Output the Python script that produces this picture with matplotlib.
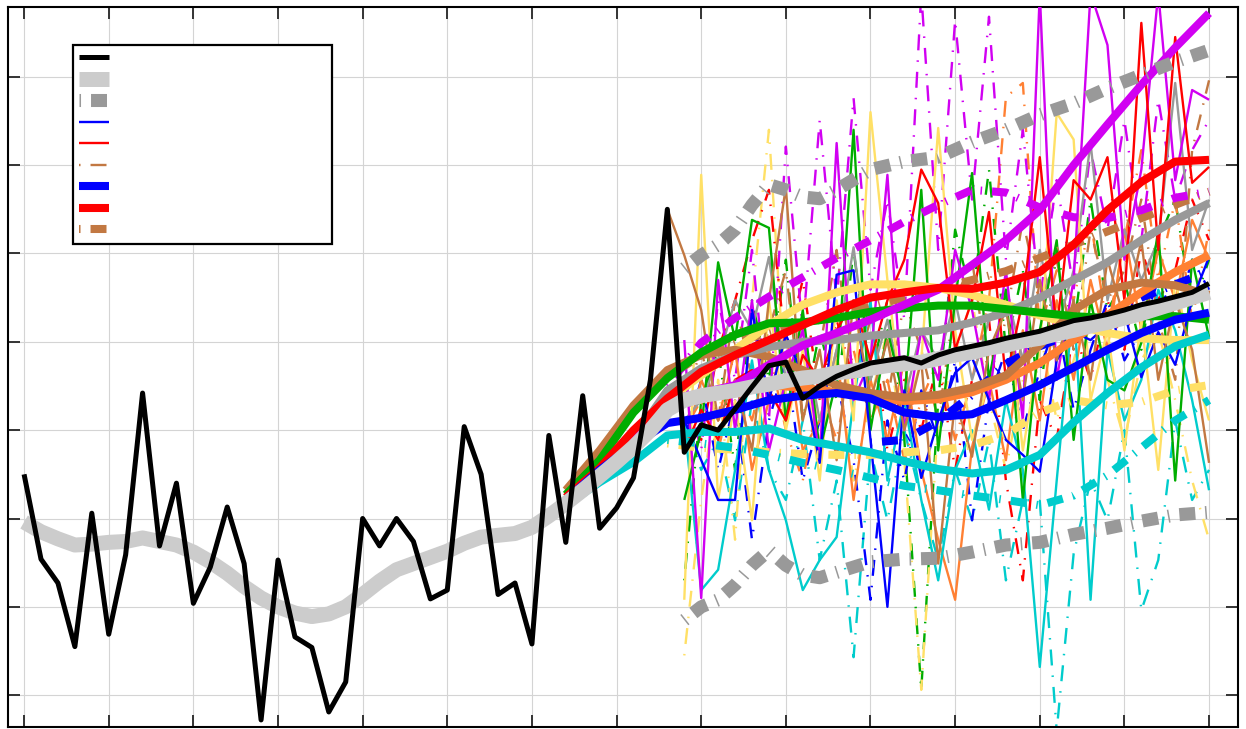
import numpy as np
import matplotlib
matplotlib.use("Agg")
import matplotlib.pyplot as plt

plt.rcParams['lines.scale_dashes'] = False
plt.rcParams['lines.solid_joinstyle'] = 'round'
plt.rcParams['lines.solid_capstyle'] = 'butt'
plt.rcParams['lines.dash_capstyle'] = 'butt'

# ---------------- data ----------------
obs_years = list(range(1950, 2021))
obs = [2.50, 1.54, 1.27, 0.55, 2.06, 0.69, 1.59, 3.42, 1.69, 2.40,
       1.04, 1.45, 2.13, 1.49, -0.28, 1.53, 0.66, 0.54, -0.19, 0.15,
       2.00, 1.69, 2.00, 1.74, 1.09, 1.19, 3.04, 2.50, 1.14, 1.27,
       0.58, 2.94, 1.73, 3.39, 1.89, 2.12, 2.46, 3.57, 5.50, 2.75,
       3.06, 3.00, 3.24, 3.49, 3.73, 3.77, 3.36, 3.50, 3.61, 3.69,
       3.76, 3.79, 3.82, 3.76, 3.85, 3.91, 3.95, 3.99, 4.04, 4.08,
       4.12, 4.18, 4.24, 4.27, 4.31, 4.36, 4.42, 4.46, 4.51, 4.56, 4.66]
obs_smooth = [1.96, 1.85, 1.77, 1.70, 1.71, 1.73, 1.74, 1.78, 1.74, 1.70,
              1.62, 1.51, 1.38, 1.23, 1.10, 1.00, 0.93, 0.89, 0.92, 1.00,
              1.14, 1.29, 1.42, 1.49, 1.56, 1.63, 1.72, 1.79, 1.81, 1.83,
              1.90, 2.03, 2.17, 2.32, 2.48, 2.64, 2.81, 3.00, 3.23, 3.34,
              3.39, 3.42, 3.45, 3.49, 3.52, 3.56, 3.59, 3.61, 3.65, 3.67,
              3.70, 3.73, 3.75, 3.77, 3.81, 3.85, 3.88, 3.93, 3.96, 4.01,
              4.04, 4.09, 4.13, 4.18, 4.22, 4.27, 4.32, 4.38, 4.44, 4.50, 4.56]

env_years = [1989, 1990, 1991, 1992, 1993, 1994, 1995, 1996, 1997, 1998,
             2000, 2002, 2004, 2006, 2008, 2010, 2012, 2014, 2016, 2018, 2020]
env_upper = [4.83, 4.98, 5.10, 5.27, 5.55, 5.78, 5.72, 5.64, 5.62, 5.72,
             5.95, 6.04, 6.09, 6.26, 6.40, 6.57, 6.70, 6.87, 7.02, 7.17, 7.30]
env_lower = [0.85, 1.00, 1.08, 1.25, 1.47, 1.64, 1.47, 1.36, 1.33, 1.39,
             1.51, 1.54, 1.55, 1.62, 1.70, 1.73, 1.82, 1.89, 1.97, 2.04, 2.07]

thin_years = list(range(1989, 2021))
brown_years = list(range(1988, 2021))

thin_blue = [3.11, 2.66, 2.21, 2.21, 4.36, 3.34, 4.08, 3.62, 2.63, 4.76, 4.81, 2.89, 1.00, 3.45, 2.46, 3.11,
             3.65, 3.82, 3.34, 2.89, 2.72, 2.53, 3.79, 4.11, 4.02, 4.19, 4.33, 3.60, 4.11, 3.74, 4.47, 4.96]
thin_red = [2.77, 3.23, 2.89, 3.57, 3.68, 3.45, 3.11, 3.85, 3.57, 4.13, 4.47, 3.79, 4.47, 4.93, 5.95, 5.57,
            3.91, 4.47, 5.47, 3.57, 4.47, 6.09, 4.13, 5.83, 5.61, 6.09, 4.47, 7.61, 5.04, 7.45, 5.80, 5.98]
thin_green = [2.21, 3.00, 4.90, 4.02, 5.38, 5.29, 3.11, 4.36, 2.77, 3.57, 6.40, 3.00, 4.13, 3.34, 5.72, 2.77,
              4.47, 5.91, 3.57, 4.59, 2.21, 4.13, 5.15, 2.89, 4.47, 3.57, 3.45, 3.99, 5.27, 2.43, 4.93, 4.05]
thin_magenta = [4.02, 1.10, 4.70, 3.00, 4.47, 2.77, 3.57, 4.13, 2.66, 6.25, 3.34, 3.79, 5.89, 3.00, 4.13, 3.57,
                5.04, 4.36, 3.34, 4.81, 3.11, 7.95, 3.57, 4.70, 7.95, 7.36, 4.93, 5.95, 7.95, 5.83, 6.85, 6.74]
thin_yellow = [1.08, 5.89, 2.21, 3.34, 1.98, 4.47, 3.00, 3.91, 2.43, 4.47, 3.11, 6.60, 4.70, 3.11, 3.79, 6.42,
               4.13, 2.89, 3.57, 4.47, 2.77, 3.91, 6.59, 6.29, 3.34, 4.13, 2.77, 4.25, 2.55, 4.70, 3.79, 3.11]
thin_cyan = [3.11, 1.19, 1.42, 2.55, 3.79, 2.55, 1.98, 1.19, 1.53, 1.79, 3.34, 4.47, 2.43, 3.34, 2.21, 1.30,
             2.55, 3.00, 2.10, 3.34, 2.55, 0.32, 2.43, 4.47, 1.08, 3.91, 3.11, 3.57, 4.59, 4.13, 3.34, 2.32]
thin_orange = [2.77, 3.57, 3.11, 3.91, 2.55, 3.34, 4.13, 2.77, 3.11, 3.91, 2.21, 3.57, 2.89, 3.79, 2.55, 1.76,
               1.08, 2.81, 3.57, 2.66, 4.13, 3.11, 4.47, 3.57, 4.70, 3.91, 5.27, 4.13, 5.04, 4.47, 5.38, 4.93]
thin_brown = [5.50, 4.98, 4.36, 3.11, 3.57, 2.77, 4.47, 5.75, 3.11, 3.91, 2.66, 4.47, 3.34, 4.02, 3.00, 3.79,
              1.49, 3.34, 2.70, 3.91, 4.36, 3.34, 4.70, 3.79, 4.47, 3.57, 4.93, 4.25, 5.15, 3.57, 4.47, 3.91, 2.63]
thin_gray = [3.11, 3.34, 3.79, 4.47, 4.13, 4.96, 3.57, 4.13, 3.11, 3.91, 5.07, 3.57, 4.25, 3.34, 4.13, 3.79,
             4.47, 3.57, 4.25, 4.59, 3.79, 5.04, 4.13, 4.81, 6.25, 4.47, 5.27, 4.70, 5.15, 6.93, 5.04, 5.61]

dd_magenta = [3.57, 2.77, 4.47, 3.57, 5.04, 3.11, 6.21, 4.13, 6.51, 4.47, 6.76, 4.59, 5.61, 4.25, 7.95, 5.04,
              7.64, 5.61, 7.68, 4.93, 6.40, 4.47, 5.83, 4.59, 6.17, 5.27, 6.51, 5.15, 6.74, 5.61, 6.17, 6.51]
dd_cyan = [3.11, 2.55, 2.89, 1.98, 3.34, 2.55, 2.21, 3.11, 1.53, 2.43, 0.43, 2.77, 1.98, 3.00, 2.21, 1.53,
           2.55, 1.98, 2.89, 1.30, 2.21, 2.20, -0.40, 1.60, 2.43, 1.98, 3.00, 0.96, 1.53, 3.11, 2.21, 2.55]
dd_green = [1.30, 3.34, 3.91, 2.55, 4.47, 3.57, 4.93, 3.11, 4.13, 3.34, 5.04, 3.57, 4.47, 2.89, 0.06, 3.34,
            5.27, 4.47, 5.95, 3.91, 4.81, 3.34, 5.04, 4.13, 5.61, 4.36, 4.70, 3.91, 5.15, 5.61, 4.36, 4.93]
dd_yellow = [0.45, 2.21, 3.57, 1.76, 4.47, 6.40, 3.34, 4.25, 2.89, 3.79, 2.43, 3.34, 4.13, 2.66, 0.06, 3.11,
             3.91, 4.47, 3.34, 2.55, 3.57, 4.13, 3.11, 3.79, 4.47, 3.57, 2.89, 3.79, 4.13, 3.34, 2.43, 1.76]
dd_red = [3.11, 2.89, 3.91, 4.47, 5.15, 5.72, 3.91, 4.70, 3.34, 4.25, 3.57, 4.47, 2.77, 3.57, 3.00, 3.79,
          2.55, 3.57, 4.25, 2.43, 1.30, 3.34, 2.89, 4.13, 3.57, 4.47, 3.91, 5.04, 4.47, 4.81, 5.61, 5.15]
dd_blue = [2.89, 3.57, 2.55, 3.34, 1.76, 3.11, 3.79, 2.43, 3.11, 3.57, 2.66, 1.08, 3.11, 2.43, 3.45, 2.89,
           3.79, 1.98, 3.34, 3.91, 3.00, 3.68, 4.25, 3.23, 3.91, 4.47, 3.79, 4.13, 4.70, 4.25, 4.93, 4.59]
dd_orange = [3.00, 3.34, 2.77, 3.57, 3.11, 3.91, 3.00, 2.43, 3.45, 2.89, 3.91, 3.11, 3.57, 2.66, 3.34, 3.79,
             2.89, 3.57, 4.47, 6.77, 6.93, 4.13, 4.81, 4.47, 5.38, 4.13, 5.15, 6.17, 4.70, 5.61, 4.25, 5.27]
dd_brown = [3.34, 3.91, 3.11, 4.47, 3.57, 4.13, 4.81, 3.11, 3.91, 5.04, 3.57, 4.25, 3.34, 4.47, 3.91, 3.11,
            4.47, 4.93, 3.57, 4.25, 5.38, 4.47, 4.93, 3.91, 5.27, 4.47, 4.81, 5.61, 4.25, 3.57, 6.17, 6.96]

thick_years = list(range(1982, 2021, 2))
thick_brown = [2.32, 2.77, 3.28, 3.68, 3.85, 3.91, 3.83, 3.68, 3.51, 3.42, 3.37, 3.40, 3.48, 3.62, 3.96, 4.36, 4.59, 4.67, 4.64, 4.53]
thick_green = [2.27, 2.66, 3.20, 3.59, 3.88, 4.08, 4.21, 4.22, 4.27, 4.34, 4.38, 4.41, 4.41, 4.37, 4.33, 4.29, 4.27, 4.29, 4.29, 4.25]
thick_red = [2.24, 2.57, 3.00, 3.36, 3.66, 3.85, 4.02, 4.19, 4.36, 4.50, 4.56, 4.61, 4.60, 4.67, 4.79, 5.10, 5.49, 5.81, 6.04, 6.06]
thick_blue = [2.21, 2.55, 2.83, 3.08, 3.14, 3.23, 3.34, 3.39, 3.42, 3.36, 3.20, 3.15, 3.18, 3.34, 3.51, 3.71, 3.91, 4.10, 4.25, 4.33]
thick_cyan = [2.15, 2.41, 2.64, 2.94, 2.98, 2.98, 3.02, 2.89, 2.82, 2.75, 2.65, 2.56, 2.51, 2.55, 2.72, 3.09, 3.42, 3.71, 3.95, 4.08]
thick_gray = [2.20, 2.55, 2.90, 3.45, 3.70, 3.85, 3.94, 4.00, 4.02, 4.07, 4.10, 4.13, 4.22, 4.33, 4.50, 4.70, 4.90, 5.15, 5.38, 5.57]
thick_orange = [2.21, 2.55, 2.89, 3.23, 3.40, 3.48, 3.51, 3.48, 3.43, 3.37, 3.33, 3.35, 3.43, 3.57, 3.76, 4.02, 4.30, 4.56, 4.79, 4.98]
thick_yellow = [2.19, 2.49, 2.89, 3.34, 3.62, 3.91, 4.19, 4.42, 4.56, 4.65, 4.65, 4.61, 4.53, 4.42, 4.30, 4.19, 4.10, 4.04, 4.02, 4.02]
thick_magenta = [2.20, 2.50, 2.90, 3.34, 3.42, 3.51, 3.74, 3.96, 4.10, 4.25, 4.42, 4.59, 4.87, 5.15, 5.49, 6.00, 6.46, 6.91, 7.33, 7.72]

thickdd_years = list(range(1988, 2021, 2))
thickdd_magenta = [3.50, 3.99, 4.27, 4.51, 4.73, 4.95, 5.15, 5.36, 5.55, 5.72, 5.69, 5.52, 5.41, 5.40, 5.49, 5.63, 5.70]
thickdd_cyan = [2.89, 2.85, 2.80, 2.72, 2.63, 2.55, 2.46, 2.37, 2.32, 2.26, 2.21, 2.15, 2.26, 2.49, 2.80, 3.11, 3.34]
thickdd_yellow = [2.85, 2.80, 2.78, 2.75, 2.73, 2.72, 2.72, 2.75, 2.77, 2.83, 2.95, 3.20, 3.34, 3.28, 3.32, 3.45, 3.51]
thickdd_brown = [3.60, 3.85, 4.00, 4.10, 4.20, 4.30, 4.40, 4.50, 4.60, 4.70, 4.80, 4.95, 5.10, 5.25, 5.40, 5.55, 5.70]
thickdd_blue_years = list(range(2000, 2021, 2))
thickdd_blue = [2.86, 2.89, 3.10, 3.40, 3.75, 3.95, 4.10, 4.30, 4.50, 4.65, 4.80]

# ---------------- styles ----------------
C = {
    'blue': (0.0, 0.0, 1.0), 'red': (1.0, 0.0, 0.0), 'green': (0.0, 0.68, 0.0),
    'magenta': (0.82, 0.0, 0.95), 'cyan': (0.0, 0.8, 0.8), 'yellow': (1.0, 0.88, 0.4),
    'orange': (1.0, 0.5, 0.2), 'brown': (0.76, 0.47, 0.26), 'gray': (0.6, 0.6, 0.6),
    'lightgray': (0.8, 0.8, 0.8), 'black': (0, 0, 0),
}
DD = (18.7, (11.5, 7.2, 1.1, 7.2))
LW_THIN, LW_THICK = 1.7, 5.8

fig = plt.figure(figsize=(12.46, 7.29), dpi=100)
ax = fig.add_axes([8 / 1246, 2 / 729, 1230 / 1246, 720 / 729])

# thin dash-dot
for vals, c in [(dd_cyan, 'cyan'), (dd_green, 'green'), (dd_yellow, 'yellow'), (dd_red, 'red'),
                (dd_blue, 'blue'), (dd_orange, 'orange'), (dd_magenta, 'magenta'), (dd_brown, 'brown')]:
    ax.plot(thin_years, vals, color=C[c], lw=LW_THIN, linestyle=DD, zorder=2)

# thin solid
for vals, c in [(thin_orange, 'orange'), (thin_gray, 'gray'), (thin_cyan, 'cyan'), (thin_yellow, 'yellow'),
                (thin_green, 'green'), (thin_magenta, 'magenta'), (thin_red, 'red'), (thin_blue, 'blue')]:
    ax.plot(thin_years, vals, color=C[c], lw=LW_THIN, zorder=3)
ax.plot(brown_years, thin_brown, color=C['brown'], lw=LW_THIN, zorder=3)

# thick dash-dot
for vals, c in [(thickdd_yellow, 'yellow'), (thickdd_cyan, 'cyan'),
                (thickdd_brown, 'brown'), (thickdd_magenta, 'magenta')]:
    ax.plot(thickdd_years, vals, color=C[c], lw=LW_THICK, linestyle=DD, zorder=4)
ax.plot(thickdd_blue_years, thickdd_blue, color=C['blue'], lw=LW_THICK, linestyle=DD, zorder=4)

# thick solid
for vals, c in [(thick_yellow, 'yellow'), (thick_orange, 'orange'), (thick_brown, 'brown'),
                (thick_gray, 'gray'), (thick_cyan, 'cyan'), (thick_green, 'green'),
                (thick_magenta, 'magenta'), (thick_red, 'red'), (thick_blue, 'blue')]:
    ax.plot(thick_years, vals, color=C[c], lw=LW_THICK, zorder=5)

# envelope
ax.plot(env_years, env_upper, color=C['gray'], lw=9.4, linestyle=DD, zorder=6)
ax.plot(env_years, env_lower, color=C['gray'], lw=9.4, linestyle=DD, zorder=6)

# observations
ax.plot(obs_years, obs_smooth, color=C['lightgray'], lw=10.8, zorder=7)
ax.plot(obs_years, obs, color='black', lw=3.6, zorder=8)

# legend proxies (no visible labels)
from matplotlib.lines import Line2D
handles = [
    Line2D([], [], color='black', lw=3.6),
    Line2D([], [], color=C['lightgray'], lw=10.8),
    Line2D([], [], color=C['gray'], lw=9.4, linestyle=DD),
    Line2D([], [], color=C['blue'], lw=LW_THIN),
    Line2D([], [], color=C['red'], lw=LW_THIN),
    Line2D([], [], color=C['brown'], lw=LW_THIN, linestyle=DD),
    Line2D([], [], color=C['blue'], lw=LW_THICK),
    Line2D([], [], color=C['red'], lw=LW_THICK),
    Line2D([], [], color=C['brown'], lw=LW_THICK, linestyle=DD),
]
labels = [''] * 9
leg = ax.legend(handles, labels, loc='upper left',
                bbox_to_anchor=(65 / 1230, (727 - 243) / 720, 259 / 1230, 198 / 720),
                mode='expand', borderaxespad=0, fontsize=10, handlelength=2.16,
                labelspacing=0.54, borderpad=0.45, fancybox=False, framealpha=1,
                edgecolor='black')
leg.get_frame().set_linewidth(1.6)
leg.set_zorder(20)

ax.set_xlim(1949.05, 2021.71)
ax.set_ylim(-0.36, 7.79)
ax.set_xticks(range(1950, 2021, 5))
ax.set_yticks(range(0, 8))
ax.set_xticklabels([])
ax.set_yticklabels([])
ax.tick_params(direction='in', length=8.6, width=1.4, color='#333333',
               top=True, right=True, bottom=True, left=True)
ax.grid(True, color='#d4d4d4', lw=0.8, zorder=0)
ax.set_axisbelow(True)
for s in ax.spines.values():
    s.set_linewidth(1.5)
    s.set_color('black')

fig.savefig('out.png', dpi=100)
